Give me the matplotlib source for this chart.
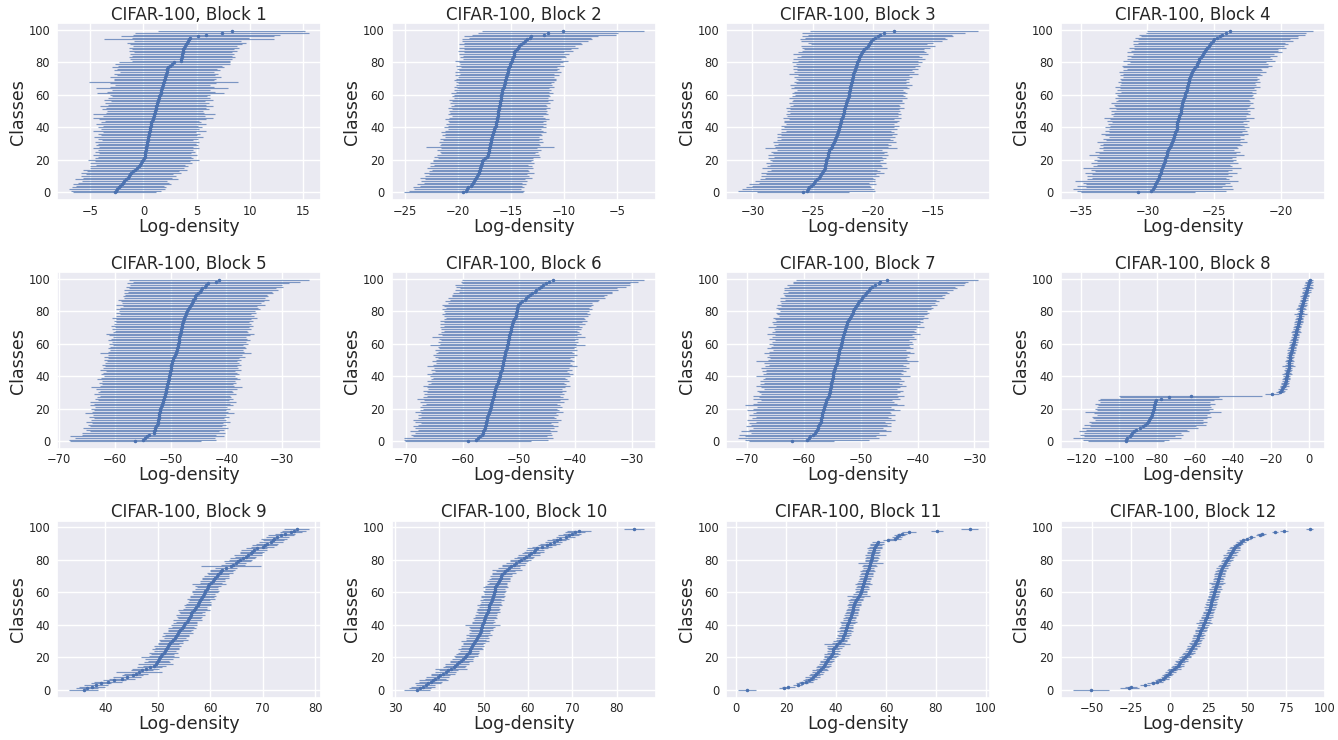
import matplotlib
matplotlib.use('Agg')
import matplotlib.pyplot as plt
import seaborn as sns
import numpy as np

sns.set_theme(style='darkgrid')
plt.rcParams['font.family'] = ['DejaVu Sans']

titles = [f'CIFAR-100, Block {i}' for i in range(1, 13)]

means_b1 = [-2.7, -2.6, -2.5, -2.3, -2.2, -2.0, -1.9, -1.8, -1.6, -1.5,
            -1.4, -1.3, -1.2, -1.0, -0.8, -0.6, -0.4, -0.3, -0.2, -0.1,
            0.0, 0.05, 0.1, 0.12, 0.15, 0.18, 0.2, 0.22, 0.25, 0.3,
            0.32, 0.35, 0.38, 0.4, 0.45, 0.5, 0.52, 0.55, 0.58, 0.6,
            0.62, 0.66, 0.7, 0.75, 0.8, 0.85, 0.9, 0.95, 1.0, 1.05,
            1.1, 1.13, 1.17, 1.2, 1.25, 1.3, 1.35, 1.4, 1.45, 1.5,
            1.55, 1.6, 1.63, 1.68, 1.72, 1.76, 1.8, 1.85, 1.9, 1.95,
            2.0, 2.05, 2.1, 2.15, 2.2, 2.22, 2.25, 2.3, 2.5, 2.7,
            2.9, 3.5, 3.55, 3.6, 3.62, 3.65, 3.7, 3.72, 3.75, 3.8,
            3.9, 4.0, 4.05, 4.15, 4.3, 4.4, 5.1, 5.9, 7.4, 8.3]
std_b1 = [3.9, 4.2, 4.5, 4.4, 4.1, 4.6, 4.3, 4.0, 4.8, 4.2,
          4.5, 4.1, 4.7, 4.3, 4.9, 4.4, 4.6, 4.2, 4.8, 4.5,
          5.2, 4.6, 4.4, 4.9, 4.3, 4.7, 4.5, 5.0, 4.4, 4.8,
          4.6, 4.9, 4.3, 4.7, 5.1, 4.5, 4.8, 4.4, 5.3, 4.6,
          4.9, 4.5, 5.2, 4.7, 4.4, 5.0, 5.6, 4.8, 5.7, 4.6,
          4.5, 5.0, 4.7, 5.3, 4.6, 4.9, 4.4, 5.1, 4.8, 4.5,
          4.7, 6.0, 5.1, 4.6, 6.2, 4.9, 4.5, 5.0, 7.0, 4.7,
          4.8, 5.2, 4.6, 4.9, 4.4, 5.0, 4.7, 5.3, 4.9, 5.4,
          5.2, 4.6, 4.8, 5.0, 4.7, 4.9, 4.6, 5.1, 4.8, 5.2,
          4.9, 5.3, 5.6, 5.0, 8.0, 5.5, 7.2, 6.9, 8.2, 6.9]

means_b2 = [-19.5, -19.2, -19.1, -19.0, -18.8, -18.7, -18.6, -18.5, -18.4, -18.3,
            -18.2, -18.1, -18.0, -18.0, -17.9, -17.9, -17.8, -17.8, -17.7, -17.7,
            -17.6, -17.4, -17.25, -17.2, -17.15, -17.1, -17.1, -17.05, -17.0, -17.0,
            -16.95, -16.9, -16.9, -16.85, -16.8, -16.8, -16.7, -16.65, -16.6, -16.55,
            -16.5, -16.45, -16.4, -16.4, -16.35, -16.3, -16.3, -16.25, -16.25, -16.2,
            -16.2, -16.15, -16.1, -16.1, -16.05, -16.0, -16.0, -15.95, -15.95, -15.9,
            -15.9, -15.85, -15.8, -15.8, -15.75, -15.7, -15.65, -15.6, -15.6, -15.55,
            -15.5, -15.45, -15.4, -15.35, -15.3, -15.3, -15.25, -15.2, -15.1, -15.05,
            -15.0, -14.95, -14.9, -14.8, -14.75, -14.7, -14.7, -14.6, -14.4, -14.3,
            -14.2, -14.1, -13.9, -13.7, -13.5, -13.2, -13.1, -11.9, -11.5, -10.1]
std_b2 = [5.6, 5.4, 5.0, 5.2, 4.8, 5.1, 4.6, 5.0, 4.7, 5.3,
          4.9, 4.6, 5.2, 4.7, 4.5, 5.0, 4.8, 4.4, 4.9, 4.6,
          4.7, 4.5, 5.0, 4.8, 4.4, 4.6, 4.9, 4.5, 6.0, 4.7,
          4.6, 4.9, 4.5, 4.8, 4.4, 4.7, 4.5, 4.9, 4.6, 4.4,
          4.8, 4.5, 4.7, 4.4, 4.6, 4.9, 4.5, 4.3, 4.7, 4.5,
          4.6, 4.4, 4.8, 4.5, 4.3, 4.7, 4.5, 4.9, 4.4, 4.6,
          4.5, 4.8, 4.4, 4.6, 4.3, 4.7, 4.5, 4.4, 4.6, 4.8,
          4.7, 4.5, 4.9, 4.4, 5.0, 4.6, 4.8, 4.5, 5.1, 4.7,
          4.9, 5.3, 4.6, 5.0, 4.8, 5.2, 4.7, 5.4, 5.0, 5.6,
          5.2, 5.8, 5.5, 5.9, 6.1, 5.7, 6.3, 6.8, 6.6, 7.6]

means_b3 = [-25.8, -25.5, -25.4, -25.3, -25.1, -25.0, -24.9, -24.8, -24.6, -24.5,
            -24.4, -24.3, -24.2, -24.1, -24.05, -24.0, -24.0, -23.95, -23.9, -23.9,
            -23.85, -23.8, -23.75, -23.7, -23.7, -23.65, -23.6, -23.5, -23.4, -23.35,
            -23.3, -23.2, -23.15, -23.1, -23.05, -23.0, -22.95, -22.9, -22.85, -22.8,
            -22.8, -22.75, -22.7, -22.65, -22.6, -22.6, -22.55, -22.5, -22.45, -22.4,
            -22.4, -22.35, -22.3, -22.3, -22.25, -22.2, -22.15, -22.1, -22.05, -22.0,
            -22.0, -21.95, -21.95, -21.9, -21.9, -21.85, -21.8, -21.8, -21.75, -21.7,
            -21.7, -21.65, -21.6, -21.6, -21.55, -21.5, -21.45, -21.4, -21.35, -21.3,
            -21.3, -21.2, -21.15, -21.1, -21.05, -21.0, -20.9, -20.8, -20.7, -20.55,
            -20.4, -20.3, -20.2, -20.1, -19.95, -19.8, -19.6, -19.4, -19.1, -18.2]
std_b3 = [3.8, 5.7, 5.5, 5.2, 4.9, 5.3, 4.6, 5.0, 4.8, 4.5,
          4.9, 4.6, 5.1, 4.7, 4.4, 5.2, 4.8, 4.6, 5.0, 4.5,
          4.7, 4.9, 4.5, 5.0, 4.6, 4.8, 4.4, 5.5, 4.7, 4.9,
          4.6, 5.1, 4.8, 4.5, 4.9, 4.6, 5.0, 4.7, 4.4, 4.8,
          4.6, 4.9, 4.5, 4.7, 4.8, 4.4, 4.9, 4.6, 4.8, 4.5,
          4.7, 4.5, 4.9, 4.6, 4.4, 4.8, 4.6, 4.5, 4.9, 4.7,
          4.5, 4.8, 4.6, 4.4, 4.9, 4.7, 5.1, 4.6, 4.8, 4.5,
          4.7, 4.9, 4.6, 5.4, 5.0, 4.8, 5.2, 4.9, 5.3, 5.1,
          5.4, 5.0, 5.5, 5.2, 4.9, 5.6, 5.3, 5.1, 5.0, 5.3,
          5.6, 4.8, 5.2, 5.9, 6.1, 5.8, 6.3, 6.0, 6.8, 7.0]

means_b4 = [-30.7, -29.7, -29.6, -29.5, -29.45, -29.4, -29.35, -29.3, -29.2, -29.15,
            -29.1, -29.05, -29.0, -28.95, -28.95, -28.9, -28.85, -28.8, -28.75, -28.7,
            -28.7, -28.65, -28.6, -28.55, -28.5, -28.5, -28.45, -28.4, -28.3, -28.25,
            -28.2, -28.15, -28.1, -28.05, -28.0, -28.0, -27.95, -27.9, -27.85, -27.8,
            -27.8, -27.8, -27.75, -27.75, -27.7, -27.7, -27.65, -27.6, -27.55, -27.5,
            -27.5, -27.45, -27.45, -27.4, -27.4, -27.4, -27.35, -27.3, -27.25, -27.2,
            -27.2, -27.15, -27.1, -27.05, -27.05, -27.0, -26.95, -26.95, -26.9, -26.9,
            -26.85, -26.8, -26.75, -26.7, -26.65, -26.6, -26.5, -26.4, -26.3, -26.25,
            -26.2, -26.15, -26.1, -26.0, -25.9, -25.8, -25.75, -25.7, -25.6, -25.5,
            -25.4, -25.3, -25.2, -25.1, -25.0, -24.8, -24.6, -24.4, -24.1, -23.8]
std_b4 = [4.3, 5.6, 6.0, 5.1, 5.8, 5.2, 5.5, 6.1, 5.3, 5.0,
          5.4, 5.1, 5.7, 5.0, 5.3, 5.9, 5.2, 5.0, 5.5, 5.1,
          5.3, 5.0, 5.2, 5.8, 5.1, 5.4, 4.9, 5.2, 5.0, 5.3,
          5.1, 5.6, 5.0, 5.3, 4.9, 5.2, 5.5, 5.0, 5.3, 5.1,
          5.4, 5.0, 5.2, 4.9, 5.3, 5.1, 5.6, 5.0, 5.2, 5.0,
          5.2, 4.9, 5.4, 5.0, 5.1, 5.3, 5.0, 4.9, 5.2, 5.0,
          5.1, 5.3, 4.9, 5.2, 5.0, 5.4, 5.1, 5.0, 5.3, 5.1,
          5.2, 5.0, 5.3, 5.1, 5.5, 5.2, 5.0, 5.4, 5.6, 5.3,
          5.1, 5.7, 5.4, 5.2, 5.6, 5.3, 5.8, 5.5, 5.4, 5.9,
          5.6, 5.8, 5.5, 6.0, 5.7, 6.1, 5.9, 6.2, 6.0, 6.2]

means_b5 = [-56.3, -55.0, -54.6, -54.3, -53.8, -53.0, -52.9, -52.8, -52.7, -52.6,
            -52.4, -52.3, -52.2, -52.2, -52.1, -52.1, -52.0, -52.0, -51.9, -51.9,
            -51.8, -51.7, -51.6, -51.5, -51.4, -51.3, -51.2, -51.1, -51.0, -50.95,
            -50.9, -50.8, -50.75, -50.7, -50.6, -50.55, -50.5, -50.4, -50.3, -50.25,
            -50.2, -50.15, -50.1, -50.05, -50.0, -49.95, -49.9, -49.85, -49.8, -49.7,
            -49.6, -49.5, -49.3, -49.2, -49.1, -49.0, -48.9, -48.8, -48.7, -48.65,
            -48.6, -48.55, -48.5, -48.45, -48.4, -48.35, -48.3, -48.2, -48.1, -48.05,
            -48.0, -47.95, -47.9, -47.8, -47.7, -47.6, -47.5, -47.4, -47.3, -47.2,
            -47.1, -46.9, -46.7, -46.5, -46.4, -46.2, -46.0, -45.9, -45.7, -45.6,
            -45.4, -45.0, -44.7, -44.5, -44.3, -43.9, -43.6, -43.3, -41.8, -41.3]
std_b5 = [11.8, 13.2, 12.5, 13.8, 12.0, 12.8, 11.5, 12.3, 13.0, 11.9,
          12.4, 11.7, 12.9, 12.1, 11.6, 12.6, 11.9, 13.4, 12.2, 11.8,
          12.5, 11.9, 12.8, 12.2, 13.1, 11.7, 12.4, 12.0, 11.6, 12.7,
          12.1, 11.8, 12.6, 13.5, 12.0, 11.7, 12.3, 11.9, 12.8, 12.2,
          11.8, 12.4, 12.0, 11.6, 12.7, 12.1, 11.9, 12.5, 12.0, 11.7,
          12.3, 11.8, 12.6, 12.0, 13.6, 12.2, 11.9, 12.4, 12.1, 11.7,
          12.5, 12.0, 12.8, 12.2, 11.9, 12.6, 13.2, 12.1, 11.8, 12.4,
          12.0, 12.7, 12.3, 11.9, 12.5, 12.1, 13.0, 12.4, 11.8, 12.6,
          12.2, 12.9, 12.4, 12.0, 13.3, 12.5, 12.8, 13.5, 12.6, 13.0,
          12.7, 13.4, 12.9, 13.8, 13.2, 14.0, 13.6, 14.5, 15.0, 16.2]

means_b6 = [-59.1, -57.6, -57.2, -56.9, -56.6, -56.4, -56.3, -56.2, -56.1, -56.0,
            -55.9, -55.85, -55.8, -55.7, -55.65, -55.6, -55.5, -55.4, -55.3, -55.2,
            -55.1, -55.0, -54.95, -54.9, -54.8, -54.75, -54.7, -54.6, -54.5, -54.45,
            -54.4, -54.3, -54.2, -54.1, -54.0, -53.9, -53.8, -53.7, -53.6, -53.5,
            -53.4, -53.35, -53.3, -53.2, -53.1, -53.05, -53.0, -52.9, -52.85, -52.8,
            -52.7, -52.65, -52.6, -52.5, -52.45, -52.4, -52.3, -52.2, -52.1, -52.05,
            -52.0, -51.95, -51.9, -51.85, -51.8, -51.7, -51.65, -51.6, -51.5, -51.45,
            -51.4, -51.3, -51.2, -51.1, -51.0, -50.8, -50.7, -50.6, -50.5, -50.45,
            -50.4, -50.35, -50.3, -50.25, -50.2, -49.8, -49.5, -49.0, -48.7, -48.4,
            -48.1, -47.6, -47.1, -46.9, -46.5, -46.1, -45.8, -45.2, -44.6, -44.0]
std_b6 = [11.2, 12.8, 13.3, 11.9, 12.5, 12.1, 13.0, 11.7, 12.4, 12.9,
          12.0, 11.6, 12.7, 13.2, 12.2, 11.8, 12.5, 12.0, 13.1, 12.3,
          11.9, 12.6, 12.2, 11.7, 12.8, 12.1, 13.4, 12.4, 11.8, 12.5,
          12.0, 12.7, 11.9, 12.3, 13.0, 12.2, 11.8, 12.6, 12.1, 11.7,
          12.4, 12.9, 12.1, 11.8, 12.5, 12.0, 13.3, 12.3, 11.9, 12.6,
          12.1, 11.7, 12.4, 12.8, 12.2, 11.9, 12.6, 12.0, 12.3, 13.7,
          12.1, 12.5, 11.9, 12.3, 13.6, 12.0, 12.7, 12.2, 11.8, 12.4,
          12.6, 12.0, 12.9, 12.3, 13.1, 12.5, 12.2, 12.8, 13.2, 12.6,
          12.9, 13.3, 12.7, 13.0, 13.4, 12.8, 13.6, 13.2, 13.9, 13.5,
          13.8, 14.2, 13.6, 14.5, 14.0, 15.1, 15.6, 15.0, 15.7, 16.2]

means_b7 = [-62.1, -59.4, -59.1, -58.8, -58.4, -58.0, -57.8, -57.6, -57.5, -57.4,
            -57.3, -57.1, -57.0, -56.95, -56.9, -56.8, -56.75, -56.7, -56.6, -56.55,
            -56.5, -56.4, -56.3, -56.2, -56.1, -56.0, -55.9, -55.7, -55.6, -55.5,
            -55.4, -55.35, -55.3, -55.25, -55.2, -55.15, -55.1, -55.0, -54.95, -54.9,
            -54.85, -54.8, -54.75, -54.7, -54.6, -54.5, -54.4, -54.3, -54.2, -54.1,
            -54.05, -54.0, -53.95, -53.9, -53.8, -53.75, -53.7, -53.6, -53.5, -53.45,
            -53.4, -53.3, -53.25, -53.2, -53.1, -53.0, -52.95, -52.9, -52.8, -52.7,
            -52.6, -52.5, -52.4, -52.3, -52.2, -52.0, -51.8, -51.6, -51.5, -51.4,
            -51.3, -51.1, -51.0, -50.8, -50.6, -50.4, -50.2, -50.0, -49.8, -49.5,
            -49.3, -49.1, -48.8, -48.6, -48.3, -48.0, -47.4, -46.8, -46.5, -45.3]
std_b7 = [7.5, 10.8, 12.4, 11.5, 12.9, 11.2, 13.1, 12.0, 11.4, 12.7,
          11.9, 12.5, 11.3, 13.0, 12.2, 11.6, 12.8, 12.1, 11.7, 13.4,
          12.3, 11.8, 14.0, 12.6, 12.0, 11.5, 12.9, 12.2, 13.3, 11.9,
          12.4, 12.8, 11.7, 12.2, 13.2, 12.5, 11.9, 12.7, 12.1, 11.8,
          13.5, 12.3, 11.9, 12.6, 12.0, 13.0, 12.4, 11.8, 12.7, 14.2,
          12.2, 11.9, 12.5, 12.1, 13.1, 12.4, 11.7, 12.8, 12.2, 12.0,
          12.6, 12.3, 11.8, 12.9, 12.4, 12.1, 13.4, 12.7, 12.2, 12.5,
          13.7, 12.4, 12.9, 13.3, 12.6, 13.0, 13.6, 12.8, 13.2, 13.5,
          12.9, 13.4, 13.8, 13.1, 14.1, 13.5, 13.9, 13.3, 14.4, 13.8,
          14.2, 14.6, 14.0, 14.8, 15.2, 14.5, 15.5, 15.1, 15.3, 16.0]

means_b8 = [-96.6, -96.3, -96.0, -94.5, -93.6, -93.0, -92.0, -91.0, -89.0, -87.5,
            -86.4, -85.4, -84.8, -84.2, -83.6, -83.0, -82.7, -82.5, -82.2, -82.0,
            -81.8, -81.6, -81.4, -81.2, -80.9, -80.4, -78.0, -73.6, -62.4, -19.5,
            -15.2, -14.6, -14.0, -13.5, -13.1, -12.8, -12.5, -12.3, -12.1, -11.9,
            -11.8, -11.6, -11.4, -11.2, -10.9, -10.8, -10.7, -10.6, -10.4, -10.3,
            -10.2, -10.1, -10.0, -9.8, -9.6, -9.4, -9.2, -9.0, -8.8, -8.5,
            -8.3, -8.1, -7.9, -7.7, -7.4, -7.2, -7.0, -6.8, -6.6, -6.4,
            -6.2, -5.9, -5.7, -5.5, -5.3, -5.1, -5.0, -4.8, -4.6, -4.4,
            -4.2, -4.1, -4.0, -3.7, -3.5, -3.3, -3.1, -2.8, -2.5, -2.2,
            -1.9, -1.7, -1.4, -1.1, -0.8, -0.5, -0.3, -0.1, 0.1, 0.3]
std_b8 = [20.0, 22.5, 28.5, 24.0, 27.0, 25.5, 29.0, 26.5, 30.5, 28.0,
          32.0, 29.5, 31.0, 28.5, 30.0, 31.5, 29.0, 30.5, 36.0, 29.5,
          31.0, 30.0, 29.5, 31.5, 29.0, 30.5, 32.0, 26.0, 37.5, 3.5,
          2.0, 1.8, 2.2, 1.6, 2.4, 1.9, 2.1, 1.7, 2.3, 2.0,
          1.8, 2.5, 2.0, 1.7, 2.2, 1.9, 3.5, 2.1, 1.8, 2.4,
          2.0, 1.7, 2.3, 1.9, 2.1, 1.8, 2.6, 2.0, 1.7, 2.2,
          1.9, 2.4, 2.1, 1.8, 2.3, 2.0, 1.7, 2.5, 2.1, 1.9,
          2.2, 1.8, 2.0, 2.4, 1.9, 2.1, 1.7, 2.3, 3.3, 2.0,
          1.8, 2.6, 2.1, 1.9, 2.4, 2.0, 1.7, 2.2, 1.9, 2.3,
          2.0, 1.8, 2.5, 2.1, 2.7, 1.9, 2.2, 1.8, 2.0, 1.6]

means_b9 = [35.9, 36.6, 37.5, 38.3, 39.2, 40.5, 41.7, 43.2, 44.2, 45.2,
            45.8, 46.4, 47.0, 47.7, 48.5, 49.3, 49.6, 49.9, 50.1, 50.3,
            50.5, 50.7, 50.9, 51.1, 51.3, 51.5, 51.7, 51.9, 52.1, 52.4,
            52.7, 53.0, 53.2, 53.4, 53.6, 53.9, 54.1, 54.3, 54.6, 54.8,
            55.0, 55.2, 55.5, 55.7, 56.0, 56.1, 56.3, 56.4, 56.6, 56.9,
            57.1, 57.3, 57.6, 57.7, 57.9, 58.0, 58.2, 58.4, 58.6, 58.8,
            59.0, 59.1, 59.3, 59.5, 59.6, 59.8, 60.1, 60.5, 60.7, 61.0,
            61.2, 61.5, 61.8, 62.1, 62.3, 63.0, 63.9, 64.4, 64.9, 65.2,
            65.7, 66.2, 66.8, 67.2, 67.7, 68.0, 68.4, 68.9, 70.0, 70.4,
            70.9, 71.5, 72.0, 72.2, 72.8, 73.5, 74.2, 75.4, 76.0, 76.5]
std_b9 = [2.8, 2.1, 2.5, 2.3, 1.9, 2.6, 2.2, 2.4, 2.7, 2.0,
          2.3, 4.4, 2.1, 2.6, 2.4, 2.2, 3.4, 2.5, 2.0, 2.7,
          3.6, 2.4, 2.2, 2.8, 2.1, 2.5, 2.3, 2.6, 2.0, 2.4,
          2.2, 2.7, 2.1, 2.5, 2.3, 2.9, 2.2, 2.4, 2.6, 2.1,
          2.5, 2.3, 2.0, 2.7, 2.2, 2.4, 2.8, 2.1, 2.5, 3.1,
          2.3, 2.1, 2.6, 2.4, 2.2, 2.0, 2.7, 2.3, 2.5, 2.1,
          2.4, 2.6, 2.2, 2.0, 2.5, 3.3, 2.1, 2.4, 2.2, 2.6,
          2.3, 2.0, 2.5, 2.2, 2.4, 2.1, 5.7, 2.3, 2.0, 2.5,
          2.2, 2.4, 2.0, 2.6, 2.1, 2.3, 2.5, 2.0, 2.2, 2.4,
          2.1, 2.3, 2.0, 2.5, 2.2, 2.4, 1.9, 2.1, 2.3, 2.4]

means_b10 = [34.9, 35.6, 36.2, 36.9, 37.5, 38.0, 38.6, 39.1, 39.6, 40.2,
             40.8, 41.4, 42.0, 42.6, 43.2, 43.6, 44.0, 44.5, 44.9, 45.3,
             45.7, 46.0, 46.3, 46.6, 46.8, 47.0, 47.2, 47.4, 47.6, 47.9,
             48.1, 48.3, 48.6, 48.8, 49.0, 49.1, 49.3, 49.4, 49.5, 49.6,
             49.7, 49.8, 50.0, 50.1, 50.3, 50.4, 50.6, 50.8, 50.9, 51.0,
             51.1, 51.2, 51.3, 51.5, 51.6, 51.8, 51.9, 52.0, 52.1, 52.3,
             52.4, 52.5, 52.6, 52.6, 52.8, 53.0, 53.2, 53.4, 53.6, 53.8,
             53.9, 54.1, 54.5, 54.9, 55.3, 55.7, 56.2, 56.8, 57.3, 57.9,
             58.4, 59.0, 59.5, 60.2, 60.7, 61.3, 61.6, 62.1, 63.2, 64.3,
             65.0, 65.8, 66.5, 67.3, 68.5, 69.2, 70.0, 70.6, 71.6, 83.9]
std_b10 = [3.0, 2.4, 2.7, 2.2, 2.9, 2.5, 3.3, 2.3, 2.6, 2.1,
           2.8, 2.4, 2.2, 3.6, 2.5, 2.3, 2.7, 2.1, 2.6, 2.4,
           2.2, 2.7, 2.5, 2.3, 2.1, 2.8, 2.4, 2.6, 2.2, 2.5,
           3.2, 2.3, 2.6, 2.1, 2.9, 2.4, 2.2, 2.7, 2.5, 3.0,
           4.0, 2.4, 2.6, 2.2, 2.8, 2.3, 2.5, 2.1, 2.7, 2.4,
           2.6, 2.2, 2.9, 2.4, 2.3, 2.7, 2.1, 2.5, 2.8, 2.3,
           2.4, 2.6, 2.2, 2.8, 2.5, 2.3, 2.1, 2.6, 2.4, 2.2,
           2.5, 2.3, 2.7, 2.2, 3.4, 2.4, 2.1, 2.6, 2.3, 2.0,
           2.4, 2.2, 1.9, 2.5, 2.1, 2.3, 2.0, 2.4, 2.2, 2.1,
           2.3, 2.0, 2.2, 1.9, 2.1, 2.4, 2.0, 2.2, 2.7, 2.3]

means_b11 = [4.4, 19.1, 20.9, 24.6, 26.4, 28.0, 29.0, 29.9, 30.7, 31.4,
             32.1, 32.8, 33.5, 34.1, 34.7, 35.2, 35.5, 35.9, 36.2, 36.9,
             37.6, 38.0, 38.3, 38.6, 38.8, 38.9, 39.3, 39.8, 40.3, 41.0,
             41.7, 42.2, 42.6, 42.9, 43.2, 43.4, 43.6, 43.8, 44.0, 44.2,
             44.4, 44.7, 45.0, 45.3, 45.5, 45.8, 46.0, 46.2, 46.4, 46.6,
             46.7, 46.9, 47.1, 47.3, 47.6, 47.8, 48.2, 48.7, 49.1, 49.5,
             49.9, 50.1, 50.3, 50.5, 50.6, 50.8, 51.0, 51.2, 51.5, 51.7,
             51.9, 52.1, 52.3, 52.5, 52.7, 53.0, 53.2, 53.4, 53.6, 53.8,
             54.0, 54.2, 54.4, 54.5, 54.7, 54.9, 55.1, 55.3, 55.7, 56.0,
             56.3, 56.7, 60.8, 63.5, 64.5, 65.3, 66.3, 69.0, 80.6, 93.6]
std_b11 = [3.6, 2.0, 2.6, 1.9, 2.3, 2.8, 2.1, 2.5, 3.0, 2.2,
           2.7, 2.4, 3.1, 2.2, 2.6, 2.9, 2.3, 2.5, 2.8, 2.1,
           2.4, 2.7, 3.2, 2.3, 2.6, 2.2, 2.9, 3.4, 5.1, 2.5,
           2.8, 2.3, 2.6, 2.1, 2.9, 2.4, 3.2, 2.2, 2.7, 2.5,
           2.3, 2.8, 3.5, 2.4, 2.6, 2.2, 2.9, 2.5, 2.3, 2.7,
           2.4, 2.2, 2.8, 2.5, 2.3, 3.0, 2.6, 2.4, 4.6, 2.8,
           2.5, 2.3, 2.9, 2.6, 2.2, 3.4, 2.7, 2.4, 2.5, 2.3,
           2.8, 2.6, 2.4, 2.9, 2.5, 2.3, 3.0, 2.7, 5.0, 2.4,
           2.6, 2.8, 2.3, 3.1, 2.5, 2.7, 2.4, 2.9, 2.6, 2.5,
           2.7, 2.4, 2.2, 2.6, 2.0, 2.3, 2.1, 2.8, 2.4, 3.4]

means_b12 = [-51.0, -26.0, -25.0, -16.0, -11.0, -8.4, -6.2, -4.4, -2.9, -1.8,
             -0.7, 0.5, 1.6, 2.8, 4.0, 5.3, 6.1, 6.9, 7.6, 8.7,
             9.8, 10.7, 11.6, 12.3, 13.0, 13.8, 14.5, 15.3, 16.0, 16.5,
             17.1, 17.6, 18.0, 18.5, 18.9, 19.3, 19.8, 20.3, 20.8, 21.2,
             21.6, 22.0, 22.5, 22.9, 23.4, 23.8, 24.3, 24.8, 25.2, 25.6,
             26.0, 26.2, 26.4, 26.7, 26.9, 27.1, 27.5, 27.9, 28.2, 28.6,
             28.9, 29.2, 29.5, 29.8, 30.1, 30.4, 30.7, 31.0, 31.3, 31.6,
             32.0, 32.3, 32.6, 33.0, 33.4, 33.8, 34.4, 35.1, 35.8, 36.4,
             37.1, 37.7, 38.4, 39.0, 39.7, 40.4, 41.0, 41.6, 42.2, 43.5,
             44.9, 46.0, 47.1, 49.8, 52.7, 58.2, 59.3, 68.2, 73.8, 90.4]
std_b12 = [11.7, 6.2, 4.1, 3.0, 3.4, 4.0, 3.2, 3.7, 2.9, 3.5,
           3.1, 3.8, 3.3, 4.2, 3.0, 3.6, 3.4, 3.1, 3.9, 3.3,
           3.7, 3.2, 3.5, 4.0, 3.1, 3.6, 3.3, 4.4, 3.2, 3.8,
           3.4, 3.1, 3.9, 3.3, 3.6, 3.0, 3.5, 3.8, 3.2, 3.4,
           3.6, 5.2, 3.3, 3.7, 3.1, 3.9, 3.4, 3.2, 3.6, 3.0,
           3.5, 3.8, 3.2, 4.1, 3.4, 3.0, 3.7, 3.3, 3.5, 3.1,
           3.6, 3.2, 4.0, 3.4, 3.1, 3.8, 5.1, 3.3, 3.5, 3.0,
           3.4, 3.7, 3.2, 3.6, 3.1, 3.9, 3.3, 3.5, 3.0, 3.2,
           3.6, 3.1, 3.4, 4.3, 3.2, 3.7, 4.2, 3.5, 3.3, 2.8,
           2.6, 3.0, 2.4, 2.8, 2.2, 2.5, 2.7, 2.0, 2.4, 2.1]

all_means = [means_b1, means_b2, means_b3, means_b4, means_b5, means_b6,
             means_b7, means_b8, means_b9, means_b10, means_b11, means_b12]
all_stds = [std_b1, std_b2, std_b3, std_b4, std_b5, std_b6,
            std_b7, std_b8, std_b9, std_b10, std_b11, std_b12]

fig, axes = plt.subplots(3, 4, figsize=(13.38, 7.4), dpi=100)
fig.subplots_adjust(left=0.0426, right=0.9903, top=0.9685, bottom=0.0568,
                    wspace=0.265, hspace=0.405)

for ax, title, m, s in zip(axes.flat, titles, all_means, all_stds):
    m = np.asarray(m)
    s = np.asarray(s)
    y = np.arange(len(m))
    eb = ax.errorbar(m, y, xerr=s, fmt='.', color='#4c72b0', ecolor='#4c72b0',
                     elinewidth=0.85, markersize=3)
    for col in eb[2]:
        col.set_alpha(0.7)
    ax.set_title(title, fontsize=12, pad=2.5)
    ax.set_xlabel('Log-density', fontsize=12.5, labelpad=0)
    ax.set_ylabel('Classes', fontsize=12.5, labelpad=1)
    ax.tick_params(axis='both', length=0)
    ax.tick_params(axis='x', labelsize=8.3, pad=3)
    ax.tick_params(axis='y', labelsize=8.3, pad=5)

fig.savefig('out.png', dpi=100)
